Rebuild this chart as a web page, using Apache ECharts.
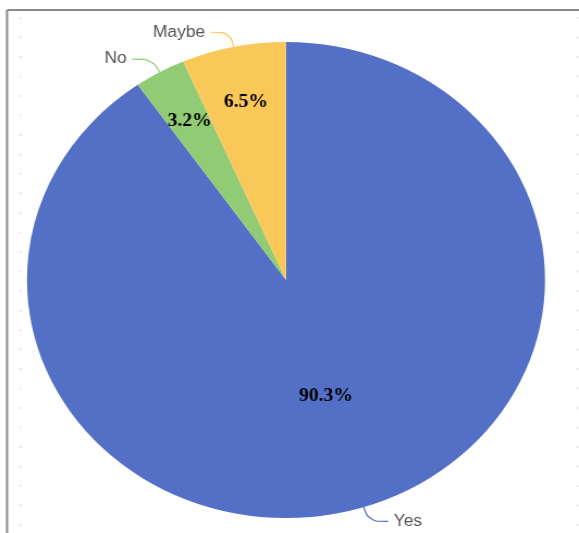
<!DOCTYPE html>
<html><head><meta charset="utf-8">
<script src="https://cdn.jsdelivr.net/npm/echarts@6/dist/echarts.min.js"></script>
<style>
html,body{margin:0;padding:0;background:#fff;overflow:hidden}
#c{position:absolute;left:0;top:0;width:532px;height:533px;transform-origin:0 0;transform:scaleX(1.0883)}
</style></head>
<body><div id="c"></div>
<script>
const categories = ['Yes', 'No', 'Maybe'];
const values = [90.3, 3.2, 6.5];
const colors = ['#5470c6', '#91cc75', '#fac858'];

const SX = 1.0883;
const chart = echarts.init(document.getElementById('c'), null, {renderer: 'canvas'});

const graphics = [
  {type: 'line', shape: {x1: 7 / SX, y1: 10, x2: 579 / SX, y2: 10}, style: {stroke: '#8a8a8a', lineWidth: 2}},
  {type: 'line', shape: {x1: 7 / SX, y1: 10, x2: 7 / SX, y2: 533}, style: {stroke: '#8a8a8a', lineWidth: 2}}
];
for (let y = 17; y < 533; y += 19.5) {
  graphics.push({type: 'rect', shape: {x: 20 / SX, y: y, width: 1, height: 2}, style: {fill: '#cfcfcf'}});
  graphics.push({type: 'rect', shape: {x: 577 / SX, y: y, width: 1, height: 2}, style: {fill: '#cfcfcf'}});
}

const baseData = categories.map((n, i) => ({name: n, value: values[i], itemStyle: {color: colors[i]}}));
const center = [286 / SX, 280];
const R = 238;

function labelSeries(radius, showIdx) {
  return {
    type: 'pie', radius: radius, center: center, silent: true, startAngle: 90, clockwise: true,
    avoidLabelOverlap: false, z: 5,
    itemStyle: {color: 'rgba(0,0,0,0)', borderWidth: 0},
    emphasis: {disabled: true},
    labelLine: {show: false},
    data: categories.map((n, i) => ({
      name: n, value: values[i],
      itemStyle: {color: 'rgba(0,0,0,0)'},
      label: {show: showIdx.indexOf(i) >= 0}
    })),
    label: {
      position: 'inside', formatter: '{c}%', color: '#000',
      fontFamily: '"Liberation Serif", "Times New Roman", serif', fontWeight: 'bold', fontSize: 18
    }
  };
}

chart.setOption({
  animation: false,
  backgroundColor: '#fff',
  graphic: graphics,
  series: [
    {
      type: 'pie', radius: R, center: center, startAngle: 90, clockwise: true,
      avoidLabelOverlap: false,
      itemStyle: {borderWidth: 0},
      emphasis: {disabled: true},
      data: baseData,
      label: {
        show: true, position: 'outside', formatter: '{b}', color: '#555',
        fontFamily: '"Liberation Sans", Arial, sans-serif', fontSize: 16
      },
      labelLine: {show: true, length: 15, length2: 18, smooth: 0.4, lineStyle: {width: 1.2}}
    },
    labelSeries(R * 1.5, [1, 2]),
    labelSeries(R, [0])
  ]
});
</script>
</body></html>
